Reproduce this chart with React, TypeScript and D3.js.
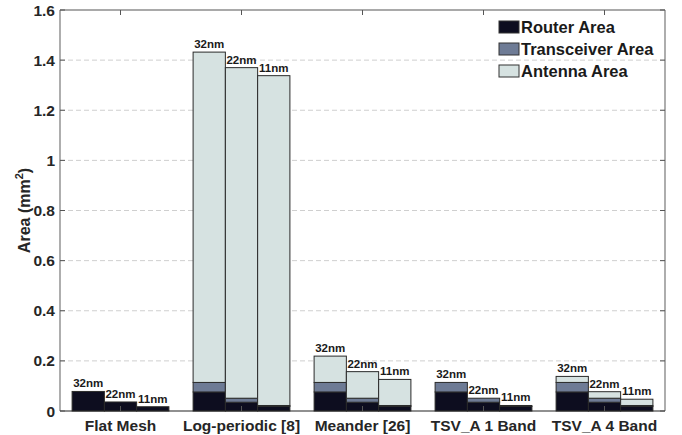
import React from "react";
import * as d3 from "d3";

// Categories (antenna designs) and technology nodes
const categories = ["Flat Mesh", "Log-periodic [8]", "Meander [26]", "TSV_A 1 Band", "TSV_A 4 Band"];
const nodes = ["32nm", "22nm", "11nm"];

// Area components in mm^2, one row per category, one entry per node
const routerArea = [
  [0.078, 0.036, 0.017],
  [0.076, 0.035, 0.018],
  [0.076, 0.035, 0.018],
  [0.076, 0.035, 0.018],
  [0.076, 0.035, 0.018],
];
const transceiverArea = [
  [0, 0, 0],
  [0.038, 0.016, 0.004],
  [0.038, 0.016, 0.004],
  [0.038, 0.016, 0.004],
  [0.038, 0.016, 0.004],
];
const antennaArea = [
  [0, 0, 0],
  [1.318, 1.319, 1.316],
  [0.105, 0.106, 0.104],
  [0, 0, 0],
  [0.024, 0.026, 0.025],
];

const seriesNames = ["Router Area", "Transceiver Area", "Antenna Area"];
const seriesColors = ["#0d0d1f", "#6e7b95", "#d6e2e1"];
const yTicks = [0, 0.2, 0.4, 0.6, 0.8, 1, 1.2, 1.4, 1.6];

const W = 682;
const H = 435;
const M = { left: 60, right: 17, top: 10, bottom: 24 };
const FONT = "'Liberation Sans', Arial, sans-serif";

export default function App() {
  const x0 = d3
    .scaleBand<string>()
    .domain(categories)
    .range([M.left, W - M.right])
    .paddingInner(0.2)
    .paddingOuter(0.1);
  const x1 = d3.scaleBand<string>().domain(nodes).range([0, x0.bandwidth()]);
  const y = d3.scaleLinear().domain([0, 1.6]).range([H - M.bottom, M.top]);

  const series = [routerArea, transceiverArea, antennaArea];

  const left = M.left;
  const right = W - M.right;
  const top = M.top;
  const bottom = H - M.bottom;

  return (
    <svg width={W} height={H} style={{ position: "absolute", left: 0, top: 0, fontFamily: FONT }}>
      <rect x={0} y={0} width={W} height={H} fill="#fff" />
      {/* grid lines */}
      {yTicks.slice(1, -1).map((t) => (
        <line
          key={"g" + t}
          x1={left}
          x2={right}
          y1={y(t)}
          y2={y(t)}
          stroke="#cfcfcf"
          strokeWidth={1}
          strokeDasharray="5,3"
        />
      ))}
      {/* stacked bars */}
      {categories.map((c, ci) =>
        nodes.map((n, ni) => {
          let base = 0;
          const bx = (x0(c) as number) + (x1(n) as number);
          const bw = x1.bandwidth();
          const segs = series.map((s, si) => {
            const v = s[ci][ni];
            const y0 = base;
            base += v;
            if (v <= 0) return null;
            return (
              <rect
                key={si}
                x={bx}
                y={y(y0 + v)}
                width={bw}
                height={y(y0) - y(y0 + v)}
                fill={seriesColors[si]}
                stroke="#2a2a2a"
                strokeWidth={1}
              />
            );
          });
          return (
            <g key={c + n}>
              {segs}
              <text
                x={bx + bw / 2}
                y={y(base) - 4}
                textAnchor="middle"
                fontSize={11.5}
                fontWeight="bold"
                fill="#1a1a1a"
              >
                {n}
              </text>
            </g>
          );
        })
      )}
      {/* frame */}
      <line x1={left} x2={right} y1={top} y2={top} stroke="#555" strokeWidth={1.2} />
      <line x1={right} x2={right} y1={top} y2={bottom} stroke="#777" strokeWidth={1.2} />
      <line x1={left} x2={left} y1={top} y2={bottom} stroke="#777" strokeWidth={1.2} />
      <line x1={left} x2={right} y1={bottom} y2={bottom} stroke="#222" strokeWidth={1.2} />
      {/* y ticks */}
      {yTicks.map((t) => (
        <g key={"t" + t}>
          <line x1={left} x2={left + 5} y1={y(t)} y2={y(t)} stroke="#555" />
          <line x1={right} x2={right - 5} y1={y(t)} y2={y(t)} stroke="#555" />
          <text
            x={left - 5}
            y={y(t)}
            dy="0.36em"
            textAnchor="end"
            fontSize={15.5}
            fontWeight="bold"
            fill="#262626"
          >
            {String(t)}
          </text>
        </g>
      ))}
      {/* x ticks and labels */}
      {categories.map((c) => {
        const cx = (x0(c) as number) + x0.bandwidth() / 2;
        return (
          <g key={"x" + c}>
            <line x1={cx} x2={cx} y1={top} y2={top + 5} stroke="#555" />
            <line x1={cx} x2={cx} y1={bottom} y2={bottom - 5} stroke="#555" />
            <text x={cx} y={bottom + 20} textAnchor="middle" fontSize={15.5} fontWeight="bold" fill="#262626">
              {c}
            </text>
          </g>
        );
      })}
      {/* y axis title */}
      <text
        transform={`translate(30,${(top + bottom) / 2}) rotate(-90)`}
        textAnchor="middle"
        fontSize={16}
        fontWeight="bold"
        fill="#262626"
      >
        Area (mm<tspan fontSize={11} dy={-7}>2</tspan>
        <tspan dy={7}>)</tspan>
      </text>
      {/* legend */}
      {seriesNames.map((s, i) => (
        <g key={s} transform={`translate(499,${27 + i * 22})`}>
          <rect x={0} y={-6} width={20} height={12} fill={seriesColors[i]} stroke="#333" strokeWidth={1} />
          <text x={22} y={0} dy="0.36em" fontSize={16.5} fontWeight="bold" fill="#1a1a1a">
            {s}
          </text>
        </g>
      ))}
    </svg>
  );
}
